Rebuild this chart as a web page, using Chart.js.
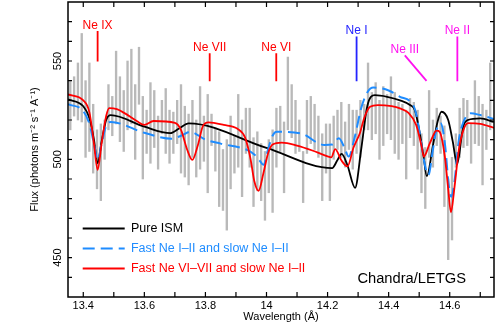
<!DOCTYPE html>
<html>
<head>
<meta charset="utf-8">
<script src="https://cdn.jsdelivr.net/npm/chart.js@4.4.0/dist/chart.umd.min.js"></script>
<style>
  html, body { margin: 0; padding: 0; background: #fff; }
</style>
</head>
<body>
<canvas id="spec" width="496" height="327"></canvas>
<script>
// spectrum bins (A) and 1-sigma error bar ends
var waveBins = [13.3575, 13.37, 13.3825, 13.395, 13.4075, 13.42, 13.4325, 13.445, 13.4575, 13.47,
  13.4825, 13.495, 13.5075, 13.52, 13.5325, 13.545, 13.5575, 13.57, 13.5825, 13.595,
  13.6075, 13.62, 13.6325, 13.645, 13.6575, 13.67, 13.6825, 13.695, 13.7075, 13.72,
  13.7325, 13.745, 13.7575, 13.77, 13.7825, 13.795, 13.8075, 13.82, 13.8325, 13.845,
  13.8575, 13.87, 13.8825, 13.895, 13.9075, 13.92, 13.9325, 13.945, 13.9575, 13.97,
  13.9825, 13.995, 14.0075, 14.02, 14.0325, 14.045, 14.0575, 14.07, 14.0825, 14.095,
  14.1075, 14.12, 14.1325, 14.145, 14.1575, 14.17, 14.1825, 14.195, 14.2075, 14.22,
  14.2325, 14.245, 14.2575, 14.27, 14.2825, 14.295, 14.3075, 14.32, 14.3325, 14.345,
  14.3575, 14.37, 14.3825, 14.395, 14.4075, 14.42, 14.4325, 14.445, 14.4575, 14.47,
  14.4825, 14.495, 14.5075, 14.52, 14.5325, 14.545, 14.5575, 14.57, 14.5825, 14.595,
  14.6075, 14.62, 14.6325, 14.645, 14.6575, 14.67, 14.6825, 14.695, 14.7075, 14.72, 14.7325];
var fluxLow = [515, 522, 520, 519, 501, 504, 493, 485, 479, 500,
  515, 512, 518, 509, 504, 515, 518, 500, 528, 490,
  503, 498, 506, 495, 513, 503, 498, 503, 508, 493,
  491, 487, 501, 491, 495, 499, 483, 507, 494, 476,
  474, 464, 485, 493, 496, 481, 503, 496, 476, 484,
  479, 469, 483, 473, 496, 504, 483, 515, 511, 503,
  504, 478, 503, 508, 505, 501, 479, 493, 479, 500,
  505, 501, 496, 505, 495, 503, 501, 515, 515, 510,
  513, 500, 507, 513, 510, 503, 500, 508, 490, 511,
  507, 495, 483, 475, 501, 496, 507, 503, 476, 449,
  459, 496, 501, 506, 507, 498, 508, 507, 487, 505, 515];
var fluxHigh = [540, 542, 549, 564, 540, 549, 528, 515, 518, 520,
  538, 532, 555, 542, 535, 550, 556, 538, 557, 532,
  525, 539, 535, 522, 530, 536, 525, 524, 530, 538,
  527, 523, 530, 520, 537, 522, 533, 523, 516, 514,
  505, 510, 522, 512, 533, 520, 526, 526, 511, 514,
  508, 504, 510, 515, 526, 527, 519, 552, 538, 530,
  520, 504, 530, 532, 528, 522, 513, 518, 518, 522,
  525, 529, 519, 528, 525, 525, 530, 528, 549, 534,
  539, 530, 537, 533, 542, 534, 529, 528, 525, 531,
  529, 525, 513, 506, 535, 520, 526, 522, 517, 490,
  501, 513, 526, 531, 530, 518, 540, 532, 528, 525, 549];

// model curves
var ismWave = [13.35, 13.40, 13.42, 13.435, 13.447, 13.46, 13.475, 13.49, 13.60, 13.685,
  13.715, 13.745, 14.00, 14.215, 14.232, 14.246, 14.265, 14.29, 14.31, 14.33,
  14.355, 14.395, 14.437, 14.47, 14.486, 14.50, 14.513, 14.525, 14.545, 14.56,
  14.573, 14.595, 14.61, 14.624, 14.644, 14.66, 14.70, 14.745];
var ismFlux = [530.5, 527, 521, 510, 498, 509, 520, 522.5, 516.6, 513.3,
  515.8, 518.3, 505.8, 495.5, 499.5, 502.8, 497, 485.5, 505, 527,
  532.6, 531.8, 530, 527.6, 525, 515, 503, 491.5, 507, 519,
  524.2, 520, 509, 497.5, 516.6, 520, 520.8, 519];

var fastLowWave = [13.35, 13.40, 13.42, 13.435, 13.447, 13.46, 13.475, 13.49, 13.60, 13.69,
  13.72, 13.75, 13.80, 13.85, 13.936, 13.96, 13.977, 13.99, 14.005, 14.02,
  14.034, 14.11, 14.19, 14.215, 14.237, 14.255, 14.269, 14.29, 14.31, 14.33,
  14.35, 14.40, 14.437, 14.47, 14.487, 14.50, 14.515, 14.53, 14.545, 14.555,
  14.57, 14.585, 14.596, 14.605, 14.615, 14.63, 14.645, 14.668, 14.70, 14.745];
var fastLowFlux = [528, 524.5, 518, 508, 499.7, 508, 517, 519, 513.5, 510.5,
  512, 514, 510, 508, 504.8, 502.5, 499.5, 497.2, 505, 512,
  514, 513.3, 507.3, 507.5, 510.7, 506, 501.4, 512, 526, 534,
  536.5, 535, 531.8, 529.5, 525, 515, 500, 492, 505, 514,
  518.5, 507, 488, 481, 488, 510, 519, 523.4, 522.5, 520.5];

var fastHighWave = [13.35, 13.40, 13.42, 13.435, 13.447, 13.46, 13.475, 13.485, 13.51, 13.535,
  13.575, 13.60, 13.63, 13.70, 13.72, 13.74, 13.757, 13.775, 13.792, 13.81,
  13.86, 13.905, 13.93, 13.948, 13.96, 13.974, 13.99, 14.005, 14.02, 14.05,
  14.10, 14.15, 14.20, 14.212, 14.225, 14.245, 14.265, 14.285, 14.306, 14.32,
  14.339, 14.365, 14.41, 14.437, 14.464, 14.49, 14.508, 14.515, 14.535, 14.557,
  14.567, 14.584, 14.595, 14.604, 14.615, 14.63, 14.645, 14.66, 14.70, 14.745];
var fastHighFlux = [533, 530, 524, 508, 494.7, 508, 522, 526, 525.5, 523.5,
  519.5, 517.5, 519.5, 518.6, 515, 505, 499.7, 507, 517, 518.8,
  517.5, 515.5, 511, 500, 489, 484, 493, 503, 507.5, 508.5,
  507, 504.5, 501.5, 501, 505.2, 499.5, 496.4, 506, 513.4, 521,
  526.7, 527.6, 527, 525.9, 523.7, 517.5, 506.5, 501.4, 508.2, 514.6,
  514, 501.4, 485, 473, 485, 505, 515, 518.4, 518, 516];

// line identifications
var markerNames = ['Ne IX', 'Ne VII', 'Ne VI', 'Ne I', 'Ne III', 'Ne II'];
var markerWave = [13.447, 13.814, 14.032, 14.295, 14.453, 14.625];
var markerWaveEnd = [13.447, 13.814, 14.032, 14.295, 14.524, 14.625];
var markerTop = [565.2, 553.9, 553.9, 562.5, 552.9, 562.5];
var markerBottom = [549.8, 539.7, 539.7, 539.7, 539.9, 539.7];
var markerColors = ['#ff0000', '#ff0000', '#ff0000', '#2424ff', '#ff10f0', '#ff10f0'];

var xTickLabels = [13.4, 13.6, 13.8, 14, 14.2, 14.4, 14.6];
var yTickLabels = [450, 500, 550];

var FONT = "'Liberation Sans', Arial, sans-serif";
Chart.defaults.font.family = FONT;
Chart.defaults.color = '#000';

function pts(xs, ys) {
  return xs.map(function (x, i) { return { x: x, y: ys[i] }; });
}

var datasets = [
  {
    label: 'Fast Ne VI\u2013VII and slow Ne I\u2013II',
    data: pts(fastHighWave, fastHighFlux),
    borderColor: '#ff0000', borderWidth: 1.8,
    pointRadius: 0, fill: false, cubicInterpolationMode: 'monotone'
  },
  {
    label: 'Fast Ne I\u2013II and slow Ne I\u2013II',
    data: pts(fastLowWave, fastLowFlux),
    borderColor: '#1e8cff', borderWidth: 2, borderDash: [12, 6],
    pointRadius: 0, fill: false, cubicInterpolationMode: 'monotone'
  },
  {
    label: 'Pure ISM',
    data: pts(ismWave, ismFlux),
    borderColor: '#000000', borderWidth: 1.8,
    pointRadius: 0, fill: false, cubicInterpolationMode: 'monotone'
  }
];

markerNames.forEach(function (name, i) {
  datasets.push({
    label: name,
    data: [{ x: markerWave[i], y: markerTop[i] }, { x: markerWaveEnd[i], y: markerBottom[i] }],
    borderColor: markerColors[i], borderWidth: 1.8,
    pointRadius: 0, fill: false, tension: 0
  });
});

datasets.push({
  type: 'bar',
  label: 'LETGS data',
  data: waveBins.map(function (w, i) { return { x: w, y: [fluxLow[i], fluxHigh[i]] }; }),
  backgroundColor: '#b9b9b9',
  borderWidth: 0,
  barThickness: 1.7
});

var legendOrder = [2, 1, 0];

var decor = {
  id: 'decor',
  afterLayout: function (chart) {
    var lg = chart.legend;
    var a = chart.chartArea;
    lg.left = a.left + 7.2;
    lg.top = a.bottom - 82.2;
  },
  afterDatasetsDraw: function (chart) {
    var ctx = chart.ctx;
    var a = chart.chartArea;
    var xs = chart.scales.x;
    var ys = chart.scales.y;
    ctx.save();

    // inward ticks on all four sides
    ctx.strokeStyle = '#000';
    ctx.lineWidth = 1.2;
    ctx.beginPath();
    xs.ticks.forEach(function (t) {
      var px = xs.getPixelForValue(t.value);
      if (px <= a.left + 1 || px >= a.right - 1) return;
      ctx.moveTo(px, a.bottom); ctx.lineTo(px, a.bottom - 5);
      ctx.moveTo(px, a.top); ctx.lineTo(px, a.top + 5);
    });
    ys.ticks.forEach(function (t) {
      var py = ys.getPixelForValue(t.value);
      if (py <= a.top + 1 || py >= a.bottom - 1) return;
      ctx.moveTo(a.left, py); ctx.lineTo(a.left + 4, py);
      ctx.moveTo(a.right, py); ctx.lineTo(a.right - 4, py);
    });
    ctx.stroke();

    ctx.lineWidth = 1.5;
    ctx.strokeRect(a.left, a.top, a.right - a.left, a.bottom - a.top);

    // line names
    ctx.font = '12px ' + FONT;
    ctx.textAlign = 'center';
    ctx.textBaseline = 'alphabetic';
    markerNames.forEach(function (name, i) {
      ctx.fillStyle = markerColors[i];
      ctx.fillText(name, xs.getPixelForValue(markerWave[i]), ys.getPixelForValue(markerTop[i]) - 2);
    });

    ctx.fillStyle = '#000';
    ctx.font = '14.7px ' + FONT;
    ctx.textAlign = 'right';
    ctx.fillText('Chandra/LETGS', a.right - 28, a.bottom - 14.3);
    ctx.restore();
  }
};

new Chart(document.getElementById('spec'), {
  type: 'line',
  data: { datasets: datasets },
  options: {
    responsive: false,
    animation: false,
    events: [],
    layout: { padding: { left: 0, right: 2, top: 2, bottom: 0 }, autoPadding: false },
    scales: {
      x: {
        type: 'linear',
        min: 13.35,
        max: 14.745,
        offset: false,
        grid: { display: false, drawTicks: false },
        border: { display: false },
        ticks: {
          stepSize: 0.1,
          includeBounds: false,
          autoSkip: false,
          maxRotation: 0,
          padding: 2.4,
          font: { size: 11 },
          color: '#000',
          callback: function (v) {
            var r = Math.round(v * 10) / 10;
            return xTickLabels.indexOf(r) >= 0 ? String(r) : '';
          }
        },
        title: {
          display: true,
          text: 'Wavelength (\u00c5)',
          font: { size: 11 },
          color: '#000',
          padding: { top: 0, bottom: 3 }
        },
        afterFit: function (s) {
          s.height = 30;
          s.paddingLeft = 0;
          s.paddingRight = 0;
        }
      },
      y: {
        type: 'linear',
        min: 430,
        max: 580,
        grid: { display: false, drawTicks: false },
        border: { display: false },
        ticks: {
          stepSize: 10,
          autoSkip: false,
          minRotation: 90,
          maxRotation: 90,
          crossAlign: 'center',
          padding: 0.5,
          font: { size: 11 },
          color: '#000',
          callback: function (v) {
            var r = Math.round(v);
            return Math.abs(v - r) < 1e-6 && yTickLabels.indexOf(r) >= 0 ? String(r) : '';
          }
        },
        title: {
          display: true,
          text: 'Flux (photons m\u207b\u00b2 s\u207b\u00b9 A\u207b\u00b9)',
          font: { size: 11 },
          color: '#000',
          padding: { top: 28.4, bottom: 0 }
        },
        afterFit: function (s) {
          s.width = 68;
          s.paddingTop = 0;
          s.paddingBottom = 0;
        }
      }
    },
    plugins: {
      tooltip: { enabled: false },
      legend: {
        position: 'chartArea',
        align: 'start',
        labels: {
          usePointStyle: true,
          pointStyleWidth: 42,
          padding: 7.5,
          font: { size: 12.5 },
          generateLabels: function (chart) {
            return legendOrder.map(function (i) {
              var ds = chart.data.datasets[i];
              return {
                text: ds.label,
                fillStyle: ds.borderColor,
                strokeStyle: ds.borderColor,
                fontColor: ds.borderColor,
                lineWidth: 2,
                lineDash: ds.borderDash || [],
                pointStyle: 'line',
                hidden: false,
                datasetIndex: i
              };
            });
          }
        }
      }
    }
  },
  plugins: [decor]
});
</script>
</body>
</html>
